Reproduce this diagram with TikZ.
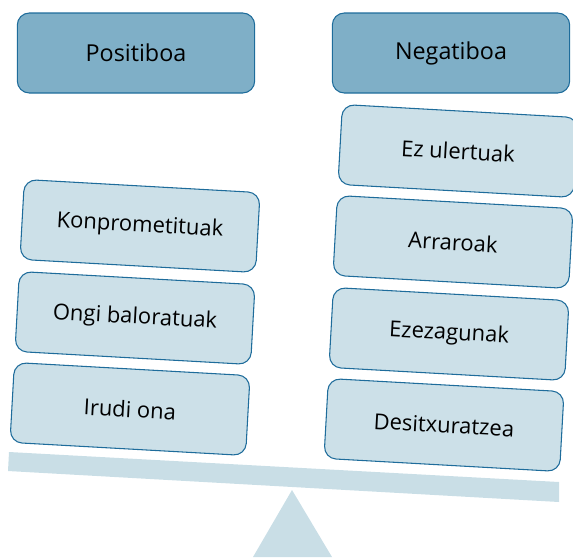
\documentclass[tikz,border=0pt]{standalone}
\usepackage{fontspec}
\setmainfont{Open Sans}
\definecolor{headfill}{RGB}{127,175,199}
\definecolor{itemfill}{RGB}{204,224,232}
\definecolor{boxline}{RGB}{30,108,155}
\definecolor{scalefill}{RGB}{201,222,230}
\begin{document}
\begin{tikzpicture}[
	x = 0.75pt, y = -0.75pt,
	every node/.style = {draw=boxline, line width=0.8pt, rectangle, rounded corners=9pt,
		minimum width=177pt, minimum height=60pt, font=\fontsize{16.5}{19}\selectfont},
	head/.style = {fill=headfill, minimum width=178pt, font=\fontsize{17.5}{20}\selectfont},
	item/.style = {fill=itemfill, rotate=-3.2},
	scalepart/.style = {fill=scalefill, draw=none}
	]
	\useasboundingbox (0,0) rectangle (573,557);
	
	% balance
	\fill[scalepart] (9,452) -- (559,482) -- (559,502) -- (8,471) -- cycle;
	\fill[scalepart] (292,490) -- (332,557) -- (253,557) -- cycle;
	
	% headers
	\node[head] (pos) at (136,53) {Positiboa};
	\node[head] (neg) at (451,53) {Negatiboa};
	
	% left pan
	\node[item] (konpro) at (140,226) {Konprometituak};
	\node[item] (ongi) at (135,318) {Ongi baloratuak};
	\node[item] (irudi) at (130,409) {Irudi ona};
	
	% right pan
	\node[item] (ezuler) at (458,151) {Ez ulertuak};
	\node[item] (arraro) at (453,242) {Arraroak};
	\node[item] (ezezag) at (449,334) {Ezezagunak};
	\node[item] (desitx) at (444,425) {Desitxuratzea};
\end{tikzpicture}
\end{document}
